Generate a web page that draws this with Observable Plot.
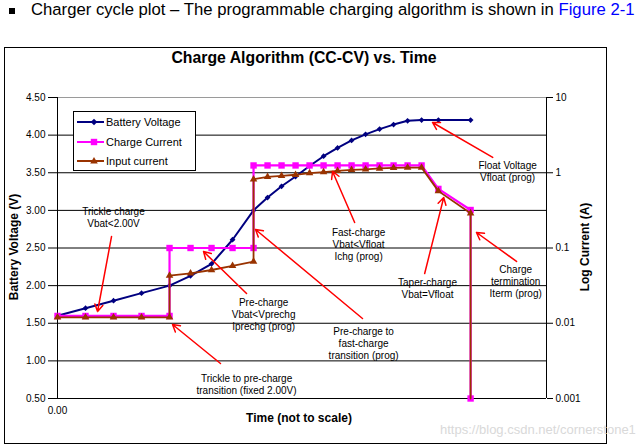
<!DOCTYPE html>
<html><head><meta charset="utf-8">
<script src="https://cdn.jsdelivr.net/npm/d3@7"></script>
<script src="https://cdn.jsdelivr.net/npm/@observablehq/plot@0.6"></script>
<style>
body{margin:0;background:#fff;font-family:"Liberation Sans",Arial,sans-serif;}
#wrap{position:relative;width:639px;height:446px;overflow:hidden;background:#fff;}
#head{position:absolute;left:0;top:0;height:20px;line-height:20px;font-size:16.7px;white-space:nowrap;color:#000;}
#head .bullet{position:absolute;left:9px;top:8px;width:6px;height:6px;background:#000;}
#head .txt{position:absolute;left:31px;top:0;}
#frame{position:absolute;left:4px;top:47px;width:601px;height:395px;border:1px solid #000;}
#chart{position:absolute;left:0;top:40px;}
.lbl{position:absolute;font-weight:bold;white-space:nowrap;color:#000;}
#title{left:304px;top:58px;font-size:15.8px;transform:translate(-50%,-50%);}
#ylab{left:14px;top:247px;font-size:12px;transform:translate(-50%,-50%) rotate(-90deg);}
#y2lab{left:585px;top:247px;font-size:12px;transform:translate(-50%,-50%) rotate(-90deg);}
#xlab{left:299px;top:418px;font-size:12px;transform:translate(-50%,-50%);}
#legend{position:absolute;left:73px;top:111px;width:121px;height:58px;border:1px solid #000;background:#fff;font-size:11px;}
#legend .row{position:absolute;left:0;height:14px;line-height:14px;}
#legend .row span{position:absolute;left:32px;top:0;white-space:nowrap;}
#legend svg{position:absolute;left:0;top:0;}
#wm{position:absolute;left:440px;top:422px;font-size:13px;color:#d9d9d9;white-space:nowrap;}
</style></head><body>
<div id="wrap">
  <div id="head"><span class="bullet"></span><span class="txt">Charger cycle plot – The programmable charging algorithm is shown in <span style="color:#0000ff">Figure 2-1</span></span></div>
  <div id="frame"></div>
  <div id="chart"></div>
  <div id="title" class="lbl">Charge Algorithm (CC-CV) vs. Time</div>
  <div id="ylab" class="lbl">Battery Voltage (V)</div>
  <div id="y2lab" class="lbl">Log Current (A)</div>
  <div id="xlab" class="lbl">Time (not to scale)</div>
  <div id="legend"></div>
  <div id="wm">https://blog.csdn.net/cornerstone1</div>
</div>
<script>
// ---- data (time is "not to scale") ----
const voltTime = [0,1,2,3,4,4.75,5.5,6.25,7,7.5,8,8.5,9,9.5,10,10.5,11,11.5,12,12.5,13,13.6,14.75];
const batteryVoltage = [1.60,1.70,1.80,1.90,2.00,2.13,2.29,2.61,3.00,3.17,3.32,3.45,3.59,3.72,3.83,3.93,4.01,4.08,4.14,4.19,4.20,4.20,4.20];
const currTime = [0,1,2,3,4,4,4.75,5.5,6.25,7,7,7.5,8,8.5,9,9.5,10,10.5,11,11.5,12,12.5,13,13.6,14.75,14.75];
const chargeCurrent = [0.0125,0.0125,0.0125,0.0125,0.0125,0.1,0.1,0.1,0.1,0.1,1.25,1.25,1.25,1.25,1.25,1.25,1.25,1.25,1.25,1.25,1.25,1.25,1.25,0.61,0.32,0.001];
const inputCurrent = [0.012,0.012,0.012,0.012,0.012,0.043,0.046,0.051,0.058,0.066,0.82,0.88,0.91,0.94,0.99,1.02,1.06,1.09,1.11,1.14,1.16,1.17,1.17,0.57,0.29,0.001];
const voltTicks = [0.5,1.0,1.5,2.0,2.5,3.0,3.5,4.0,4.5];
const currTickValues = [0.001,0.01,0.1,1,10];
const currTickLabels = ["0.001","0.01","0.1","1","10"];
const seriesNames = ["Battery Voltage","Charge Current","Input current"];
const seriesColors = ["#000080","#ff00ff","#993300"];
// annotations in data units (time, voltage)
const annoLabels = ["Trickle charge\nVbat<2.00V","Pre-charge\nVbat<Vprechg\nIprechg (prog)","Trickle to pre-charge\ntransition (fixed 2.00V)","Pre-charge to\nfast-charge\ntransition (prog)","Fast-charge\nVbat<Vfloat\nIchg (prog)","Taper-charge\nVbat=Vfloat","Charge\ntermination\nIterm (prog)","Float Voltage\nVfloat (prog)"];
const annoTextT = [2.0,7.36,6.75,10.93,10.75,13.21,16.36,16.07];
const annoTextV = [2.905,1.616,0.686,1.231,2.547,1.968,2.055,3.517];
const arrowT1 = [1.93,6.75,5.82,10.89,10.61,13.11,16.39,15.54];
const arrowV1 = [2.653,1.895,0.965,1.563,2.839,2.161,2.321,3.703];
const arrowT2 = [1.43,5.214,4.107,7.07,9.82,13.79,14.96,13.39];
const arrowV2 = [1.656,2.453,1.483,2.746,3.517,3.171,2.706,4.168];

// log current (0.001..10) shares the voltage axis (0.5..4.5)
const toLeft = (c) => 3.5 + Math.log10(c);
const volt = voltTime.map((t,i)=>({t, v: batteryVoltage[i]}));
const charge = currTime.map((t,i)=>({t, v: toLeft(chargeCurrent[i])}));
const input = currTime.map((t,i)=>({t, v: toLeft(inputCurrent[i]), i}));
const annos = annoLabels.map((label,i)=>({label, tx: annoTextT[i], ty: annoTextV[i], x1: arrowT1[i], y1: arrowV1[i], x2: arrowT2[i], y2: arrowV2[i]}));
const xMax = 17.46;

const chart = Plot.plot({
  width: 639, height: 406,
  marginLeft: 57, marginRight: 93, marginTop: 57, marginBottom: 48,
  style: {background: "transparent", fontFamily: "Liberation Sans, Arial, sans-serif", fontSize: "10px", color: "#000", overflow: "visible"},
  x: {domain: [0, xMax]},
  y: {domain: [0.5, 4.5]},
  marks: [
    Plot.ruleY(voltTicks.filter(v => v > 0.5 && v < 4.5), {stroke: "#000", strokeWidth: 1}),
    Plot.ruleY([voltTicks[voltTicks.length-1]], {stroke: "#9a9a9a", strokeWidth: 1}),
    Plot.ruleY([voltTicks[0]], {stroke: "#000", strokeWidth: 1}),
    Plot.ruleX([0, xMax], {stroke: "#000", strokeWidth: 1}),
    Plot.axisY({ticks: voltTicks, tickFormat: d3.format(".2f"), tickSize: 9, tickPadding: 3, label: null, fontSize: 10}),
    Plot.axisY({anchor: "right", ticks: currTickValues.map(toLeft), tickFormat: (d) => currTickLabels[currTickValues.map(toLeft).findIndex(v => Math.abs(v-d) < 1e-9)], tickSize: 6, tickPadding: 3, label: null, fontSize: 10}),
    Plot.axisX({ticks: [0], tickFormat: d3.format(".2f"), tickSize: 0, tickPadding: 8, label: null, fontSize: 10}),
    Plot.line(volt, {x: "t", y: "v", stroke: seriesColors[0], strokeWidth: 2}),
    Plot.dot(volt, {x: "t", y: "v", symbol: "diamond2", r: 2.6, fill: seriesColors[0], stroke: "none"}),
    Plot.line(charge, {x: "t", y: "v", stroke: seriesColors[1], strokeWidth: 2.2}),
    Plot.dot(charge, {x: "t", y: "v", symbol: "square", r: 3.6, fill: seriesColors[1], stroke: "none"}),
    Plot.line(input, {x: "t", y: "v", stroke: seriesColors[2], strokeWidth: 1.8}),
    Plot.dot(input.filter(d => d.i < input.length - 1), {x: "t", y: "v", symbol: "triangle", r: 2.8, fill: seriesColors[2], stroke: "none"}),
    Plot.arrow(annos, {x1: "x1", y1: "y1", x2: "x2", y2: "y2", stroke: "#ff0000", strokeWidth: 1.5, headLength: 8, bend: 0}),
    Plot.text(annos, {x: "tx", y: "ty", text: "label", fontSize: 10, lineHeight: 1.2, fill: "#000", textAnchor: "middle"})
  ]
});
document.getElementById("chart").appendChild(chart);

// legend
const leg = document.getElementById("legend");
const rowsY = [10, 30, 49];
let svg = `<svg width="121" height="58">`;
seriesNames.forEach((n,i)=>{
  const y = rowsY[i], c = seriesColors[i];
  svg += `<line x1="3" x2="30" y1="${y}" y2="${y}" stroke="${c}" stroke-width="2"/>`;
  if (i===0) svg += `<polygon points="20,${y-3.3} 23.3,${y} 20,${y+3.3} 16.7,${y}" fill="${c}"/>`;
  if (i===1) svg += `<rect x="16.8" y="${y-3.2}" width="6.4" height="6.4" fill="${c}"/>`;
  if (i===2) svg += `<polygon points="20,${y-4} 23.8,${y+2.6} 16.2,${y+2.6}" fill="${c}"/>`;
});
svg += `</svg>`;
leg.innerHTML = svg + seriesNames.map((n,i)=>`<div class="row" style="top:${rowsY[i]-7}px"><span>${n}</span></div>`).join("");
</script>
</body></html>
